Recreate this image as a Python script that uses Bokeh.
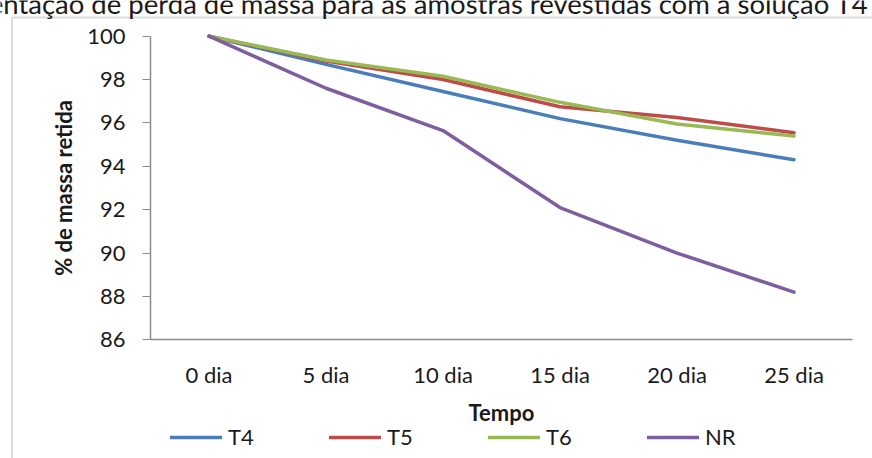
from bokeh.plotting import figure
from bokeh.models import (Legend, LegendItem, Label, BoxAnnotation,
                          Range1d, FixedTicker)
from bokeh.embed import file_html
from bokeh.resources import INLINE

categories = ["0 dia", "5 dia", "10 dia", "15 dia", "20 dia", "25 dia"]
t4 = [100, 98.7, 97.45, 96.2, 95.2, 94.3]
t5 = [100, 98.85, 98.0, 96.75, 96.25, 95.55]
t6 = [100, 98.9, 98.15, 96.95, 95.95, 95.4]
nr = [100, 97.6, 95.65, 92.1, 90.0, 88.2]
series_names = ["T4", "T5", "T6", "NR"]
series_values = [t4, t5, t6, nr]
colors = ["#4A7EBB", "#BE4B48", "#98B954", "#7D5FA0"]
y_ticks = [86, 88, 90, 92, 94, 96, 98, 100]
y_min, y_max = 86, 100
title_text = "Representação de perda de massa para as amostras revestidas com a solução T4"

FONT = "Lato"
TXT = "#1a1a1a"
AX = "#8c8c8c"
W, H = 872, 458

# page layout (canvas pixels): plot area 150..852 x 35.7..339.3
PLOT_L, PLOT_R = 150.0, 852.0
PLOT_T, PLOT_B = 35.7, 339.3
n = len(categories)
DX = (PLOT_R - PLOT_L) / n
DY = (PLOT_B - PLOT_T) / (y_max - y_min)

def xd(px):
    return (px - PLOT_L) / DX - 0.5

def yd(py):
    return y_max - (py - PLOT_T) / DY

xs = list(range(n))

p = figure(width=W, height=H, title=None,
           x_range=Range1d(xd(0), xd(W)), y_range=Range1d(yd(H), yd(0)),
           output_backend="svg", toolbar_location=None,
           min_border=0, min_border_left=0, min_border_right=0,
           min_border_top=0, min_border_bottom=0)

p.xgrid.visible = False
p.ygrid.visible = False
p.outline_line_color = None

# y axis, drawn at the left edge of the plot area
p.yaxis.fixed_location = -0.5
p.yaxis.bounds = (y_min, y_max)
p.yaxis.ticker = FixedTicker(ticks=y_ticks)
p.yaxis.minor_tick_line_color = None
p.yaxis.major_tick_in = 0
p.yaxis.major_tick_out = 8
p.yaxis.major_tick_line_color = AX
p.yaxis.axis_line_color = AX
p.yaxis.axis_line_width = 1.5
p.yaxis.major_label_standoff = 17
p.yaxis.major_label_text_font = FONT
p.yaxis.major_label_text_font_size = "22px"
p.yaxis.major_label_text_color = TXT
p.yaxis.axis_label = "% de massa retida"
p.yaxis.axis_label_text_font = FONT
p.yaxis.axis_label_text_font_style = "bold"
p.yaxis.axis_label_text_font_size = "22px"
p.yaxis.axis_label_text_color = TXT
p.yaxis.axis_label_standoff = 7

# category axis, drawn at the bottom of the plot area
p.xaxis.fixed_location = y_min
p.xaxis.bounds = (-0.5, n - 0.5)
p.xaxis.ticker = FixedTicker(ticks=xs)
p.xaxis.major_label_overrides = {i: c for i, c in zip(xs, categories)}
p.xaxis.major_tick_line_color = None
p.xaxis.minor_tick_line_color = None
p.xaxis.axis_line_color = AX
p.xaxis.axis_line_width = 1.5
p.xaxis.major_label_standoff = 15
p.xaxis.major_label_text_font = FONT
p.xaxis.major_label_text_font_size = "22px"
p.xaxis.major_label_text_color = TXT
p.xaxis.axis_label = "Tempo"
p.xaxis.axis_label_text_font = FONT
p.xaxis.axis_label_text_font_style = "bold"
p.xaxis.axis_label_text_font_size = "22px"
p.xaxis.axis_label_text_color = TXT
p.xaxis.axis_label_standoff = 8

items = []
for name, ys, c in zip(series_names, series_values, colors):
    r = p.line(x=xs, y=ys, line_width=3.5, line_color=c,
               line_join="round", line_cap="round")
    items.append(LegendItem(label=name, renderers=[r]))

legend = Legend(items=items, orientation="horizontal", location=(170, 8),
                glyph_width=52, glyph_height=20, label_standoff=6,
                label_width=101, spacing=0, padding=0, margin=0,
                border_line_color=None, background_fill_alpha=0,
                label_text_font=FONT, label_text_font_size="22px",
                label_text_color=TXT)
p.add_layout(legend, "center")

# chart-area border (left and top edges visible in the crop)
p.add_layout(BoxAnnotation(left=xd(11.5), right=xd(W + 20), top=yd(17), bottom=yd(H + 20),
                           fill_alpha=0, line_color=AX, line_width=2))

# title, cut by the top and left edges of the page
p.add_layout(Label(x=xd(868), y=yd(2.5), text=title_text, text_align="right",
                   text_baseline="alphabetic", text_font=FONT,
                   text_font_size="27.5px", text_color=TXT))

open("out.html", "w").write(file_html(p, INLINE))
